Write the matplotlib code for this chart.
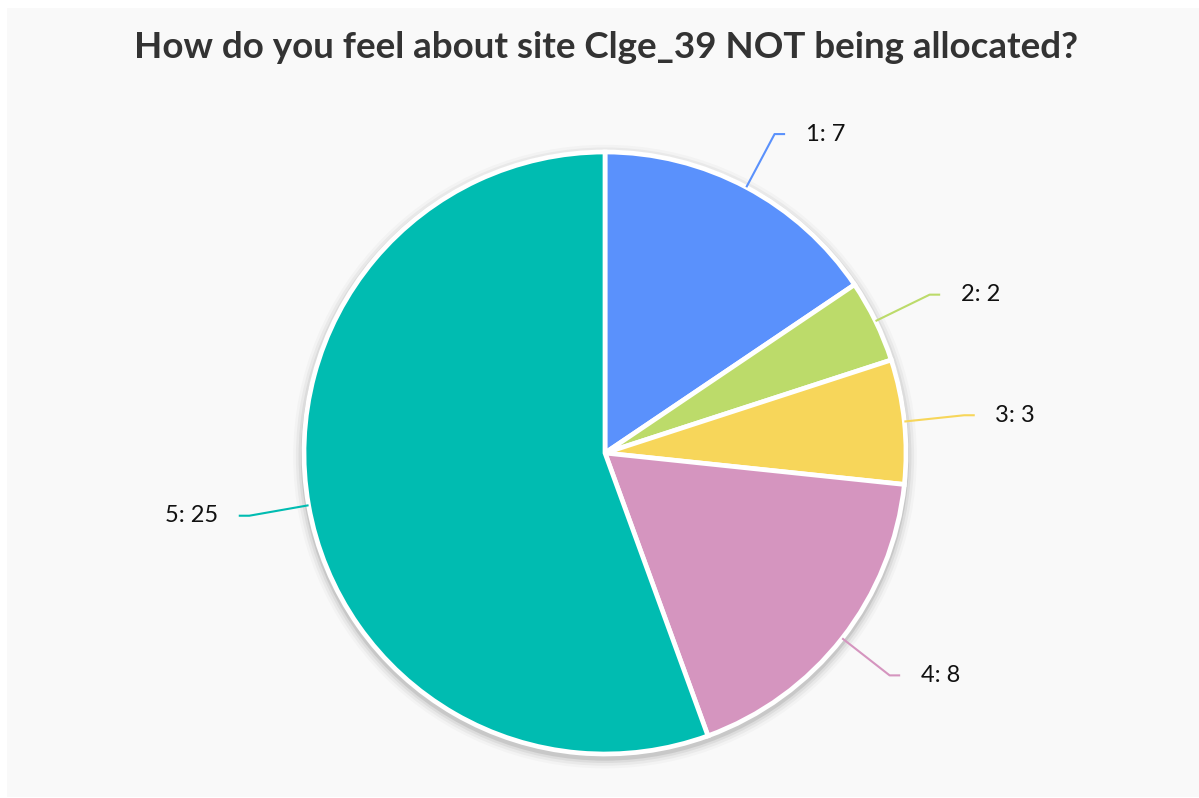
import numpy as np
import matplotlib.pyplot as plt
from matplotlib.patches import Circle, Rectangle

# Responses per rating
categories = ["1", "2", "3", "4", "5"]
counts = [7, 2, 3, 8, 25]
colors = ["#5A91FC", "#BCDB6A", "#F7D65A", "#D595BF", "#00BCB1"]
title = "How do you feel about site Clge_39 NOT being allocated?"

W, H, DPI = 1199, 798, 100
fig = plt.figure(figsize=(W / DPI, H / DPI), dpi=DPI, facecolor="white")

# light grey panel behind everything
bg = fig.add_axes([0, 0, 1, 1])
bg.set_xlim(0, W)
bg.set_ylim(H, 0)
bg.axis("off")
bg.add_patch(Rectangle((7, 8), W - 7, H - 9, facecolor="#F9F9F9", edgecolor="none"))

fig.text(606 / W, 1 - 47 / H, title, ha="center", va="center",
         fontsize=26.5, fontweight="bold", color="#333333", family=["Lato", "DejaVu Sans"])

# pie axes: centre (605, 453), radius 301 px
R_PX = 301
cx, cy = 605, 453
LIM = 1.4
size = 2 * R_PX * LIM
ax = fig.add_axes([(cx - size / 2) / W, 1 - (cy + size / 2) / H, size / W, size / H])

# soft drop shadow under the pie
for grow, alpha in [(0.036, 0.025), (0.027, 0.04), (0.018, 0.055), (0.01, 0.09)]:
    ax.add_patch(Circle((0, -0.012), 1 + grow, facecolor="black", alpha=alpha,
                        edgecolor="none", zorder=1))

wedges, _ = ax.pie(counts, colors=colors, startangle=90, counterclock=False, radius=1,
                   wedgeprops=dict(edgecolor="white", linewidth=3.4))
for w in wedges:
    w.set_zorder(2)

ax.set_xlim(-LIM, LIM)
ax.set_ylim(-LIM, LIM)
ax.set_aspect("equal")
ax.axis("off")

# leader lines with elbow and labels
total = sum(counts)
start = 0.0
for cat, val, col in zip(categories, counts, colors):
    mid = (start + val / 2) / total * 2 * np.pi
    start += val
    sx, sy = np.sin(mid), np.cos(mid)
    x0, y0 = 1.0 * sx, 1.0 * sy
    x1, y1 = 1.2 * sx, 1.2 * sy
    side = 1 if sx >= 0 else -1
    x2 = x1 + side * 0.035
    ax.plot([x0, x1, x2], [y0, y1, y1], color=col, lw=1.5, zorder=3, solid_capstyle="butt")
    ax.text(x2 + side * 0.068, y1, f"{cat}: {val}", ha="left" if side > 0 else "right",
            va="center", fontsize=17, color="#111111", family=["Lato", "DejaVu Sans"])

fig.savefig("out.png", dpi=DPI, facecolor="white")
